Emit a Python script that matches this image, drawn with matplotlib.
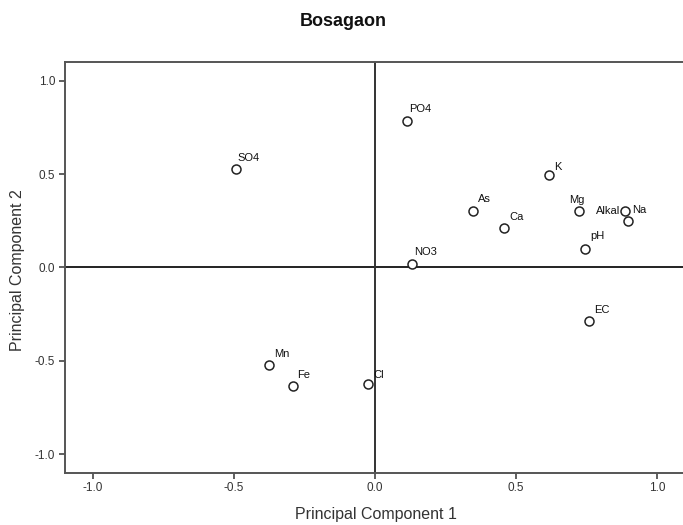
import matplotlib
matplotlib.use("Agg")
import matplotlib.pyplot as plt

plt.rcParams['font.family'] = ['Liberation Sans', 'DejaVu Sans']

variables = ["PO4", "SO4", "K", "As", "Ca", "Mg", "Alkal", "Na", "pH", "NO3", "EC", "Mn", "Fe", "Cl"]
pc1 = [0.113, -0.493, 0.617, 0.349, 0.459, 0.723, 0.887, 0.896, 0.746, 0.130, 0.760, -0.377, -0.291, -0.026]
pc2 = [0.783, 0.525, 0.496, 0.301, 0.211, 0.301, 0.301, 0.249, 0.100, 0.016, -0.289, -0.522, -0.633, -0.627]
tick_values = [-1.0, -0.5, 0.0, 0.5, 1.0]
tick_labels = ["-1.0", "-0.5", "0.0", "0.5", "1.0"]

# label placement (offset in points, alignment)
label_style = {
    "PO4": ((1.5, 6.5), "left", "baseline"),
    "SO4": ((1.0, 6.3), "left", "baseline"),
    "K": ((4.0, 3.6), "left", "baseline"),
    "As": ((3.3, 6.5), "left", "baseline"),
    "Ca": ((3.6, 5.8), "left", "baseline"),
    "Mg": ((-1.5, 6.2), "center", "baseline"),
    "Alkal": ((-3.6, 0.0), "right", "center"),
    "Na": ((3.6, 5.8), "left", "baseline"),
    "pH": ((3.3, 7.2), "left", "baseline"),
    "NO3": ((1.5, 6.5), "left", "baseline"),
    "EC": ((3.6, 5.8), "left", "baseline"),
    "Mn": ((3.6, 5.6), "left", "baseline"),
    "Fe": ((3.3, 5.6), "left", "baseline"),
    "Cl": ((4.3, 4.4), "left", "baseline"),
}

fig = plt.figure(figsize=(6.83, 5.25), dpi=100)
W, H = 683, 525
ax = fig.add_axes([65 / W, 1 - 472.7 / H, (685 - 65) / W, (472.7 - 62) / H])

ax.set_xlim(-1.1, 1.1)
ax.set_ylim(-1.1, 1.1)

ax.axhline(0, color="#222222", lw=1.4, zorder=1)
ax.axvline(0, color="#333333", lw=1.4, zorder=1)

ax.scatter(pc1, pc2, s=42, facecolors="white", edgecolors="#222222", linewidths=1.1, zorder=3)

for name, x, y in zip(variables, pc1, pc2):
    off, ha, va = label_style[name]
    ax.annotate(name, (x, y), xytext=off, textcoords="offset points",
                ha=ha, va=va, fontsize=8, color="#111111", zorder=4)

ax.set_xticks(tick_values)
ax.set_xticklabels(tick_labels)
ax.set_yticks(tick_values)
ax.set_yticklabels(tick_labels)
ax.tick_params(direction="out", length=4, width=1.2, color="#444444",
               labelsize=8.5, labelcolor="#333333", pad=3)

for side in ["left", "bottom", "top"]:
    ax.spines[side].set_color("#555555")
    ax.spines[side].set_linewidth(1.4)
ax.spines["right"].set_visible(False)

fig.text(343.5 / W, 1 - 21 / H, "Bosagaon", ha="center", va="center",
         fontsize=13, fontweight="bold", color="#111111")
fig.text(376 / W, 1 - 514 / H, "Principal Component 1", ha="center", va="center",
         fontsize=11.5, color="#333333")
fig.text(18 / W, 1 - 270 / H, "Principal Component 2", ha="center", va="center",
         rotation=90, fontsize=11.5, color="#333333")

fig.savefig("out.png", dpi=100)
